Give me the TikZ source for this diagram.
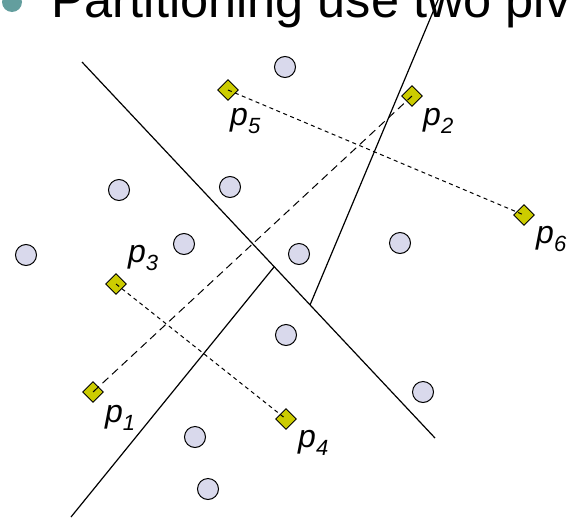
\documentclass[tikz,border=0pt]{standalone}
\usepackage{fontspec}
\setmainfont{Liberation Sans}
\usetikzlibrary{shapes.geometric}
\definecolor{bulletc}{RGB}{99,158,158}
\definecolor{ptfill}{RGB}{217,217,236}
\definecolor{pivfill}{RGB}{204,204,0}
\tikzset{
  pt/.style={circle, draw=black, line width=1pt, fill=ptfill, minimum size=21pt, inner sep=0pt},
  piv/.style={rectangle, rotate=45, draw=black, line width=1pt, fill=pivfill, minimum size=14.5pt, inner sep=0pt},
  plab/.style={anchor=base west, inner sep=0pt, font=\fontsize{32}{32}\selectfont\itshape},
  sep/.style={line width=1.2pt},
  longdash/.style={line width=1pt, dash pattern=on 8pt off 5pt},
  shortdash/.style={line width=1pt, dash pattern=on 4pt off 3.5pt},
}
\newcommand{\sbx}[1]{\raisebox{-8pt}{\fontsize{22}{22}\selectfont #1}}
\begin{document}
\begin{tikzpicture}[x=1pt,y=-1pt]
\useasboundingbox (0,0) rectangle (572,530);
% title
\fill[bulletc] (12,2) circle (10);
\node[anchor=base west, inner sep=0pt, font=\fontsize{50.5}{50.5}\selectfont] (title) at (51,17) {Partitioning use two pivots};
% separating lines
\coordinate (a1) at (82,62);
\coordinate (a2) at (435,438);
\coordinate (b1) at (71,517);
\coordinate (b2) at (274,267);
\coordinate (c1) at (310,305);
\coordinate (c2) at (438,0);
\draw[sep] (a1) -- (a2);
\draw[sep] (b1) -- (b2);
\draw[sep] (c1) -- (c2);
% data points
\node[pt] (d1) at (285,67) {};
\node[pt] (d2) at (119,190) {};
\node[pt] (d3) at (230,187) {};
\node[pt] (d4) at (184,244) {};
\node[pt] (d5) at (26,255) {};
\node[pt] (d6) at (299,254) {};
\node[pt] (d7) at (400,243) {};
\node[pt] (d8) at (286,335) {};
\node[pt] (d9) at (423,392) {};
\node[pt] (d10) at (195,437) {};
\node[pt] (d11) at (208,489) {};
% pivots
\node[piv] (p5) at (228,90) {};
\node[piv] (p2) at (412,96) {};
\node[piv] (p6) at (524,215) {};
\node[piv] (p3) at (116,284) {};
\node[piv] (p1) at (93,392) {};
\node[piv] (p4) at (286,419) {};
\draw[longdash] (p1.center) -- (p2.center);
\draw[shortdash] (p5.center) -- (p6.center);
\draw[shortdash] (p3.center) -- (p4.center);
% labels
\node[plab] (l5) at (230,125) {p\sbx{5}};
\node[plab] (l2) at (423,125) {p\sbx{2}};
\node[plab] (l6) at (536,243) {p\sbx{6}};
\node[plab] (l3) at (128,262) {p\sbx{3}};
\node[plab] (l1) at (105,422) {p\sbx{1}};
\node[plab] (l4) at (298,447) {p\sbx{4}};
\end{tikzpicture}
\end{document}
